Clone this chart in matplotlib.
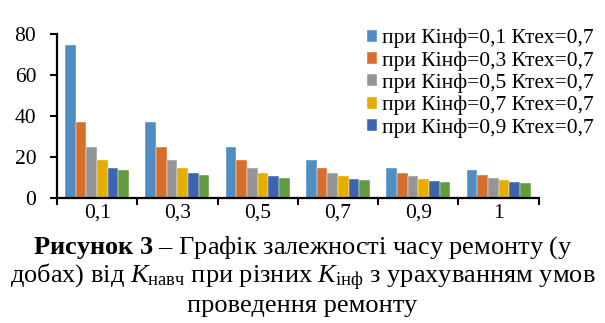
import matplotlib
matplotlib.use("Agg")
import matplotlib.pyplot as plt
import numpy as np

categories = ["0,1", "0,3", "0,5", "0,7", "0,9", "1"]
series_labels = [
    "при Кінф=0,1 Ктех=0,7",
    "при Кінф=0,3 Ктех=0,7",
    "при Кінф=0,5 Ктех=0,7",
    "при Кінф=0,7 Ктех=0,7",
    "при Кінф=0,9 Ктех=0,7",
    "при Кінф=1 Ктех=0,7",
]
s1 = [74.5, 37.1, 24.8, 18.5, 14.8, 13.5]
s2 = [37.1, 24.8, 18.5, 14.8, 12.3, 11.4]
s3 = [24.8, 18.5, 14.8, 12.3, 10.6, 9.7]
s4 = [18.5, 14.8, 12.3, 10.6, 9.1, 8.6]
s5 = [14.8, 12.3, 10.6, 9.1, 8.1, 7.6]
s6 = [13.6, 11.3, 9.7, 8.6, 7.8, 7.2]
series = [s1, s2, s3, s4, s5, s6]
colors = ["#4F8DC2", "#D66F2D", "#959595", "#E6AC00", "#3C64AF", "#639C3F"]
yticks = [0, 20, 40, 60, 80]

plt.rcParams["font.family"] = ["Liberation Serif", "DejaVu Serif"]
plt.rcParams["mathtext.fontset"] = "custom"
plt.rcParams["mathtext.rm"] = "Liberation Serif"
plt.rcParams["mathtext.it"] = "Liberation Serif:italic"
plt.rcParams["mathtext.bf"] = "Liberation Serif:bold"

fig = plt.figure(figsize=(6.05, 3.23), dpi=100)
ax = fig.add_axes([57/605, 1-198/323, 481.7/605, (198-33.7)/323])

x = np.arange(len(categories))
w = 0.133
handles = []
for i, (vals, c) in enumerate(zip(series, colors)):
    b = ax.bar(x + (i - 2.5) * w, vals, width=w, color=c, edgecolor="white", linewidth=0.3)
    handles.append(b)

ax.set_xlim(-0.5, len(categories) - 0.5)
ax.set_ylim(0, 80)
ax.set_yticks(yticks)
ax.set_yticklabels([str(t) for t in yticks], fontsize=15.5)
ax.set_xticks(x)
ax.set_xticklabels(categories, fontsize=15.5)
ax.set_xticks(np.arange(-0.5, len(categories), 1.0), minor=True)
ax.tick_params(axis="x", which="major", length=0, pad=4)
ax.tick_params(axis="x", which="minor", length=5, width=1.5, direction="out")
ax.tick_params(axis="y", length=5, width=1.5, direction="out", pad=10)
for s in ["top", "right"]:
    ax.spines[s].set_visible(False)
for s in ["left", "bottom"]:
    ax.spines[s].set_linewidth(1.6)

fig.legend(handles[:5], series_labels[:5], loc="upper left",
           bbox_to_anchor=(367/605, 1-29/323), frameon=False, fontsize=15.5,
           handlelength=0.48, handleheight=0.48, handletextpad=0.22,
           labelspacing=0.13, borderaxespad=0, borderpad=0)

cap_fs = 19
fig.text(0.5, 1-254/323, r"$\mathbf{Рисунок\ 3}$ – Графік залежності часу ремонту (у",
         ha="center", va="baseline", fontsize=cap_fs)
fig.text(0.5, 1-283/323, r"добах) від $K_{\mathrm{навч}}$ при різних $K_{\mathrm{інф}}$ з урахуванням умов",
         ha="center", va="baseline", fontsize=cap_fs)
fig.text(0.5, 1-312/323, "проведення ремонту", ha="center", va="baseline", fontsize=cap_fs)

fig.savefig("out.png", dpi=100)
